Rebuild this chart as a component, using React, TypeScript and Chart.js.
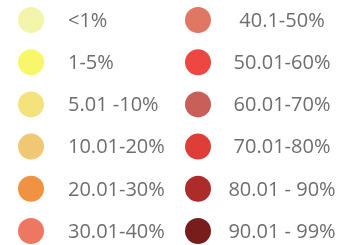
import React, { useEffect, useRef } from "react";
import { Chart, registerables } from "chart.js";

Chart.register(...registerables);

const categories = [
  "<1%", "1-5%", "5.01 -10%", "10.01-20%", "20.01-30%", "30.01-40%",
  "40.1-50%", "50.01-60%", "60.01-70%", "70.01-80%", "80.01 - 90%", "90.01 - 99%",
];
const colors = [
  "#F3F5AA", "#F8F76C", "#F4E27C", "#F0C873", "#EF9343", "#EE7762",
  "#E07664", "#EE4743", "#C85F59", "#DE3D38", "#AE2B2B", "#781C1C",
];
const columns = [0, 0, 0, 0, 0, 0, 1, 1, 1, 1, 1, 1];
const rows = [0, 1, 2, 3, 4, 5, 0, 1, 2, 3, 4, 5];

const labelPlugin = {
  id: "legendLabels",
  afterDatasetsDraw(chart: any) {
    const ctx = chart.ctx;
    const meta = chart.getDatasetMeta(0);
    ctx.save();
    ctx.font = "20px 'Open Sans'";
    ctx.fillStyle = "#6e6e6e";
    ctx.textBaseline = "middle";
    meta.data.forEach((pt: any, i: number) => {
      if (columns[i] === 0) {
        ctx.textAlign = "left";
        ctx.fillText(categories[i], pt.x + 37, pt.y + 1);
      } else {
        ctx.textAlign = "center";
        ctx.fillText(categories[i], pt.x + 84, pt.y + 1);
      }
    });
    ctx.restore();
  },
};

export default function App() {
  const ref = useRef<HTMLCanvasElement>(null);
  useEffect(() => {
    document.body.style.margin = "0";
    const xMin = -31 / 167;
    const xMax = xMin + 343 / 167;
    const yMin = -20 / 42.2;
    const yMax = yMin + 245 / 42.2;
    const chart = new Chart(ref.current!, {
      type: "scatter",
      data: {
        datasets: [
          {
            data: categories.map((_, i) => ({ x: columns[i], y: rows[i] })),
            backgroundColor: colors,
            pointBackgroundColor: colors,
            pointBorderWidth: 0,
            pointRadius: 13,
            pointHoverRadius: 13,
            clip: false,
          },
        ],
      },
      options: {
        animation: false,
        responsive: false,
        layout: { padding: 0, autoPadding: false },
        plugins: { legend: { display: false }, tooltip: { enabled: false } },
        scales: {
          x: { type: "linear", display: false, min: xMin, max: xMax },
          y: { type: "linear", display: false, min: yMin, max: yMax, reverse: true },
        },
      },
      plugins: [labelPlugin],
    });
    return () => chart.destroy();
  }, []);
  return (
    <div style={{ width: 343, height: 245, background: "#fff" }}>
      <canvas ref={ref} width={343} height={245} />
    </div>
  );
}
